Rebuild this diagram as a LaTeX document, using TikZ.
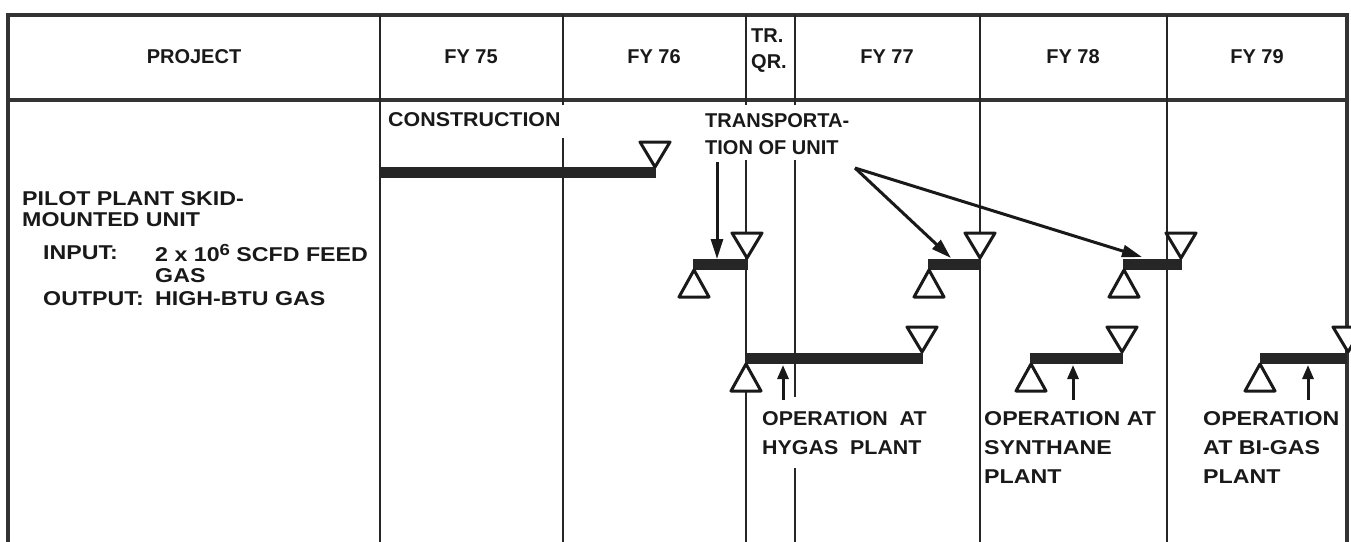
\documentclass[tikz,border=0pt]{standalone}
\usepackage{fontspec}
\setmainfont{Liberation Sans}
\newfontfamily\widefont{Liberation Sans}[FakeStretch=1.16]
\newfontfamily\midfont{Liberation Sans}[FakeStretch=1.07]
\usetikzlibrary{arrows.meta}
\begin{document}
\begin{tikzpicture}[x=1pt,y=-1pt,
  grid/.style={line width=2.4pt, draw=black!85},
  frame/.style={line width=3.2pt, draw=black!80},
  bar/.style={fill=black!85, draw=none},
  tri/.style={line width=3pt, draw=black!90, fill=white, line join=round},
  trio/.style={line width=3pt, draw=black!90, line join=round},
  lbl/.style={font=\bfseries\fontsize{20}{22}\selectfont, inner sep=0pt, text=black!90},
  wlbl/.style={lbl, font=\widefont\bfseries\fontsize{20}{22}\selectfont},
  lblop/.style={lbl, font=\widefont\bfseries\fontsize{20}{29}\selectfont, align=left, anchor=north west},
  arr/.style={line width=3pt, draw=black!90, -{Triangle[length=20pt,width=12pt]}},
  uarr/.style={line width=3pt, draw=black!90, -{Triangle[length=14pt,width=11pt]}},
  dtri/.pic={\path[tri] (-15,-25) -- (15,-25) -- (0,0) -- cycle;},
  dtrio/.pic={\path[trio] (-15,-25) -- (15,-25) -- (0,0) -- cycle;},
  utri/.pic={\path[tri] (0,0) -- (15,27) -- (-15,27) -- cycle;},
]
\useasboundingbox (0,0) rectangle (1351,541);
\clip (0,0) rectangle (1351,541);

% frame and header
\draw[frame] (8,545) -- (8,15) -- (1347,15) -- (1347,545);
\draw[frame] (8,100) -- (1347,100);

% column lines
\draw[grid] (380,15) -- (380,545);
\draw[grid] (563,15) -- (563,105);
\draw[grid] (563,138) -- (563,545);
\draw[grid] (746,15) -- (746,105);
\draw[grid] (746,160) -- (746,545);
\draw[grid] (795,15) -- (795,105);
\draw[grid] (795,160) -- (795,397);
\draw[grid] (795,468) -- (795,545);
\draw[grid] (980,15) -- (980,545);
\draw[grid] (1167,15) -- (1167,545);

% header labels
\node[lbl] (hproj) at (194,57) {PROJECT};
\node[lbl] (h75) at (471,57) {FY 75};
\node[lbl] (h76) at (654,57) {FY 76};
\node[lbl, align=left, anchor=north west, font=\bfseries\fontsize{20}{26}\selectfont] (htr) at (751,29) {TR.\\QR.};
\node[lbl] (h77) at (887,57) {FY 77};
\node[lbl] (h78) at (1073,57) {FY 78};
\node[lbl] (h79) at (1257,57) {FY 79};

% project description
\node[wlbl, align=left, anchor=north west, font=\widefont\bfseries\fontsize{20}{21}\selectfont] (pilot) at (22,191) {PILOT PLANT SKID-\\MOUNTED UNIT};
\node[wlbl, anchor=west] (inp) at (43,253) {INPUT:};
\node[wlbl, anchor=west] (inpv) at (155,253) {2 x 10\raisebox{6pt}{\fontsize{16}{16}\selectfont 6} SCFD FEED};
\node[wlbl, anchor=west] (inpv2) at (155,276) {GAS};
\node[wlbl, anchor=west] (outp) at (43,299) {OUTPUT:};
\node[wlbl, anchor=west] (outpv) at (155,299) {HIGH-BTU GAS};

% construction
\node[lbl, anchor=west, font=\midfont\bfseries\fontsize{20}{22}\selectfont] (constr) at (388,120) {CONSTRUCTION};
\fill[bar] (380,167) rectangle (656,178);
\pic at (655,167) {dtri};

% transportation label
\node[lbl, align=left, anchor=north west, font=\bfseries\fontsize{20}{27}\selectfont] (transp) at (705,113) {TRANSPORTA-\\TION OF UNIT};

% step 1
\fill[bar] (693,259) rectangle (748,270);
\pic at (747,258) {dtri};
\pic at (694,270) {utri};
% step 2
\fill[bar] (928,259) rectangle (981,270);
\pic at (980,258) {dtri};
\pic at (929,270) {utri};
% step 3
\fill[bar] (1123,259) rectangle (1182,270);
\pic at (1181,258) {dtrio};
\pic at (1124,270) {utri};

% transport arrows
\coordinate (t1s) at (717,162);
\coordinate (t1e) at (717,259);
\coordinate (t2s) at (855,168);
\coordinate (t2e) at (951,258);
\coordinate (t3e) at (1142,257);
\draw[arr] (t1s) -- (t1e);
\draw[arr] (t2s) -- (t2e);
\draw[arr] (t2s) -- (t3e);

% operation at hygas
\fill[bar] (746,353) rectangle (923,364);
\pic at (922,352) {dtri};
\pic at (746,364) {utri};
\coordinate (h1s) at (783,400);
\coordinate (h1e) at (783,365);
\draw[uarr] (h1s) -- (h1e);
\node[lblop, font=\midfont\bfseries\fontsize{20}{29}\selectfont] (hyg) at (762,411) {OPERATION\ \ AT\\HYGAS\ \ PLANT};

% operation at synthane
\fill[bar] (1030,353) rectangle (1123,364);
\pic at (1122,352) {dtri};
\pic at (1031,364) {utri};
\coordinate (s1s) at (1073,400);
\coordinate (s1e) at (1073,365);
\draw[uarr] (s1s) -- (s1e);
\node[lblop] (syn) at (984,411) {OPERATION AT\\SYNTHANE\\PLANT};

% operation at bi-gas
\fill[bar] (1260,353) rectangle (1347,364);
\pic at (1348,352) {dtri};
\pic at (1260,364) {utri};
\coordinate (b1s) at (1308,400);
\coordinate (b1e) at (1308,365);
\draw[uarr] (b1s) -- (b1e);
\node[lblop] (big) at (1203,411) {OPERATION\\AT BI-GAS\\PLANT};
\end{tikzpicture}
\end{document}
